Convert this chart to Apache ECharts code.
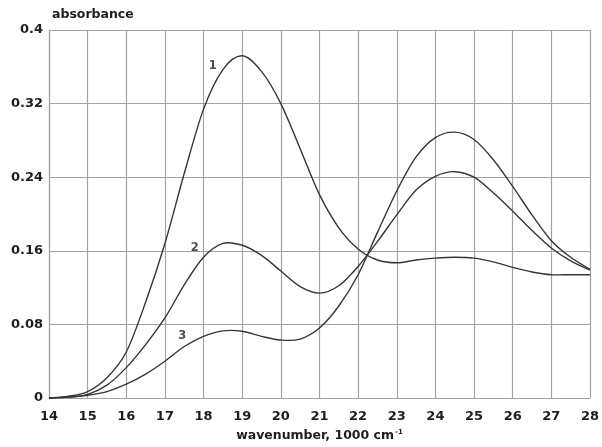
<!DOCTYPE html>
<html>
<head>
<meta charset="utf-8">
<script src="https://cdn.jsdelivr.net/npm/echarts@6/dist/echarts.min.js"></script>
<style>
html,body{margin:0;padding:0;background:#fff;}
#chart{width:602px;height:447px;}
</style>
</head>
<body>
<div id="chart"></div>
<script>
var wavenumbers = [14, 14.5, 15, 15.5, 16, 16.5, 17, 17.5, 18, 18.5, 19, 19.5, 20, 20.5, 21, 21.5, 22, 22.5, 23, 23.5, 24, 24.5, 25, 25.5, 26, 26.5, 27, 27.5, 28];
var curve1 = [0, 0.002, 0.007, 0.022, 0.050, 0.104, 0.168, 0.244, 0.314, 0.357, 0.372, 0.355, 0.320, 0.271, 0.221, 0.185, 0.162, 0.150, 0.147, 0.150, 0.152, 0.153, 0.152, 0.148, 0.142, 0.137, 0.134, 0.134, 0.134];
var curve2 = [0, 0.001, 0.004, 0.014, 0.033, 0.058, 0.087, 0.123, 0.153, 0.168, 0.166, 0.155, 0.138, 0.121, 0.114, 0.122, 0.143, 0.170, 0.199, 0.226, 0.241, 0.246, 0.240, 0.223, 0.203, 0.182, 0.163, 0.149, 0.139];
var curve3 = [0, 0.001, 0.003, 0.007, 0.015, 0.026, 0.040, 0.056, 0.067, 0.073, 0.0725, 0.067, 0.063, 0.064, 0.076, 0.100, 0.134, 0.180, 0.225, 0.262, 0.283, 0.289, 0.281, 0.259, 0.230, 0.199, 0.171, 0.153, 0.140];
var curveNames = ['1', '2', '3'];
var curveLabelPos = [[18.24, 0.3605], [17.77, 0.1627], [17.45, 0.0677]];
var xTicks = [14, 15, 16, 17, 18, 19, 20, 21, 22, 23, 24, 25, 26, 27, 28];
var yTicks = [0, 0.08, 0.16, 0.24, 0.32, 0.4];

var curves = [curve1, curve2, curve3];
var gridColor = '#a3a3a3';
var lineColor = '#363636';
var textColor = '#1e1e1e';
var font = 'DejaVu Sans';

// Smooth curve through the data points, positioned by the chart's own axes (api.coord)
function renderCurve(params, api) {
  var c = curves[params.dataIndex];
  var p = wavenumbers.map(function (x, i) { return api.coord([x, c[i]]); });
  var n = p.length;
  var d = 'M' + p[0][0] + ' ' + p[0][1];
  for (var i = 0; i < n - 1; i++) {
    var p0 = p[Math.max(i - 1, 0)], p1 = p[i], p2 = p[i + 1], p3 = p[Math.min(i + 2, n - 1)];
    var c1x = p1[0] + (p2[0] - p0[0]) / 6, c1y = p1[1] + (p2[1] - p0[1]) / 6;
    var c2x = p2[0] - (p3[0] - p1[0]) / 6, c2y = p2[1] - (p3[1] - p1[1]) / 6;
    d += ' C' + c1x + ' ' + c1y + ' ' + c2x + ' ' + c2y + ' ' + p2[0] + ' ' + p2[1];
  }
  return { type: 'path', shape: { pathData: d },
    style: { fill: 'none', stroke: lineColor, lineWidth: 1.4 } };
}

var chart = echarts.init(document.getElementById('chart'), null, { renderer: 'canvas' });
chart.setOption({
  animation: false,
  backgroundColor: '#fff',
  grid: { left: 49, right: 11, top: 30, bottom: 45 },
  xAxis: {
    type: 'value', min: xTicks[0], max: xTicks[xTicks.length - 1], interval: 1,
    name: '{a|wavenumber, 1000 cm}{s|-1}', nameLocation: 'middle', nameGap: 31,
    nameTextStyle: { rich: {
      a: { fontFamily: font, fontWeight: 'bold', fontSize: 12.5, color: textColor },
      s: { fontFamily: font, fontWeight: 'bold', fontSize: 7, color: textColor, verticalAlign: 'top', padding: [0, 0, 6, 1] }
    } },
    axisLine: { show: true, lineStyle: { color: gridColor, width: 1.2 } },
    axisTick: { show: false },
    axisLabel: { margin: 12, fontFamily: font, fontWeight: 'bold', fontSize: 13, color: textColor },
    splitLine: { show: true, lineStyle: { color: gridColor, width: 1.2 } }
  },
  yAxis: {
    type: 'value', min: yTicks[0], max: yTicks[yTicks.length - 1], interval: 0.08,
    name: 'absorbance', nameLocation: 'end', nameGap: 9,
    nameTextStyle: { align: 'left', fontFamily: font, fontWeight: 'bold', fontSize: 12.5, color: textColor, padding: [0, 0, 0, 3] },
    axisLine: { show: true, lineStyle: { color: gridColor, width: 1.2 } },
    axisTick: { show: false },
    axisLabel: { margin: 6, fontFamily: font, fontWeight: 'bold', fontSize: 13, color: textColor,
      formatter: function (v) { return String(+v.toFixed(2)); } },
    splitLine: { show: true, lineStyle: { color: gridColor, width: 1.2 } }
  },
  series: [
    {
      type: 'custom', silent: true, clip: false,
      data: curves.map(function (c, i) { return [wavenumbers[0], c[0]]; }),
      renderItem: renderCurve
    },
    {
      type: 'scatter', symbolSize: 0, silent: true,
      data: curveLabelPos.map(function (p, i) { return { value: p, name: curveNames[i] }; }),
      label: { show: true, position: 'inside', formatter: function (p) { return p.name; },
        fontFamily: font, fontWeight: 'bold', fontSize: 11.5, color: textColor }
    }
  ]
});
</script>
</body>
</html>
